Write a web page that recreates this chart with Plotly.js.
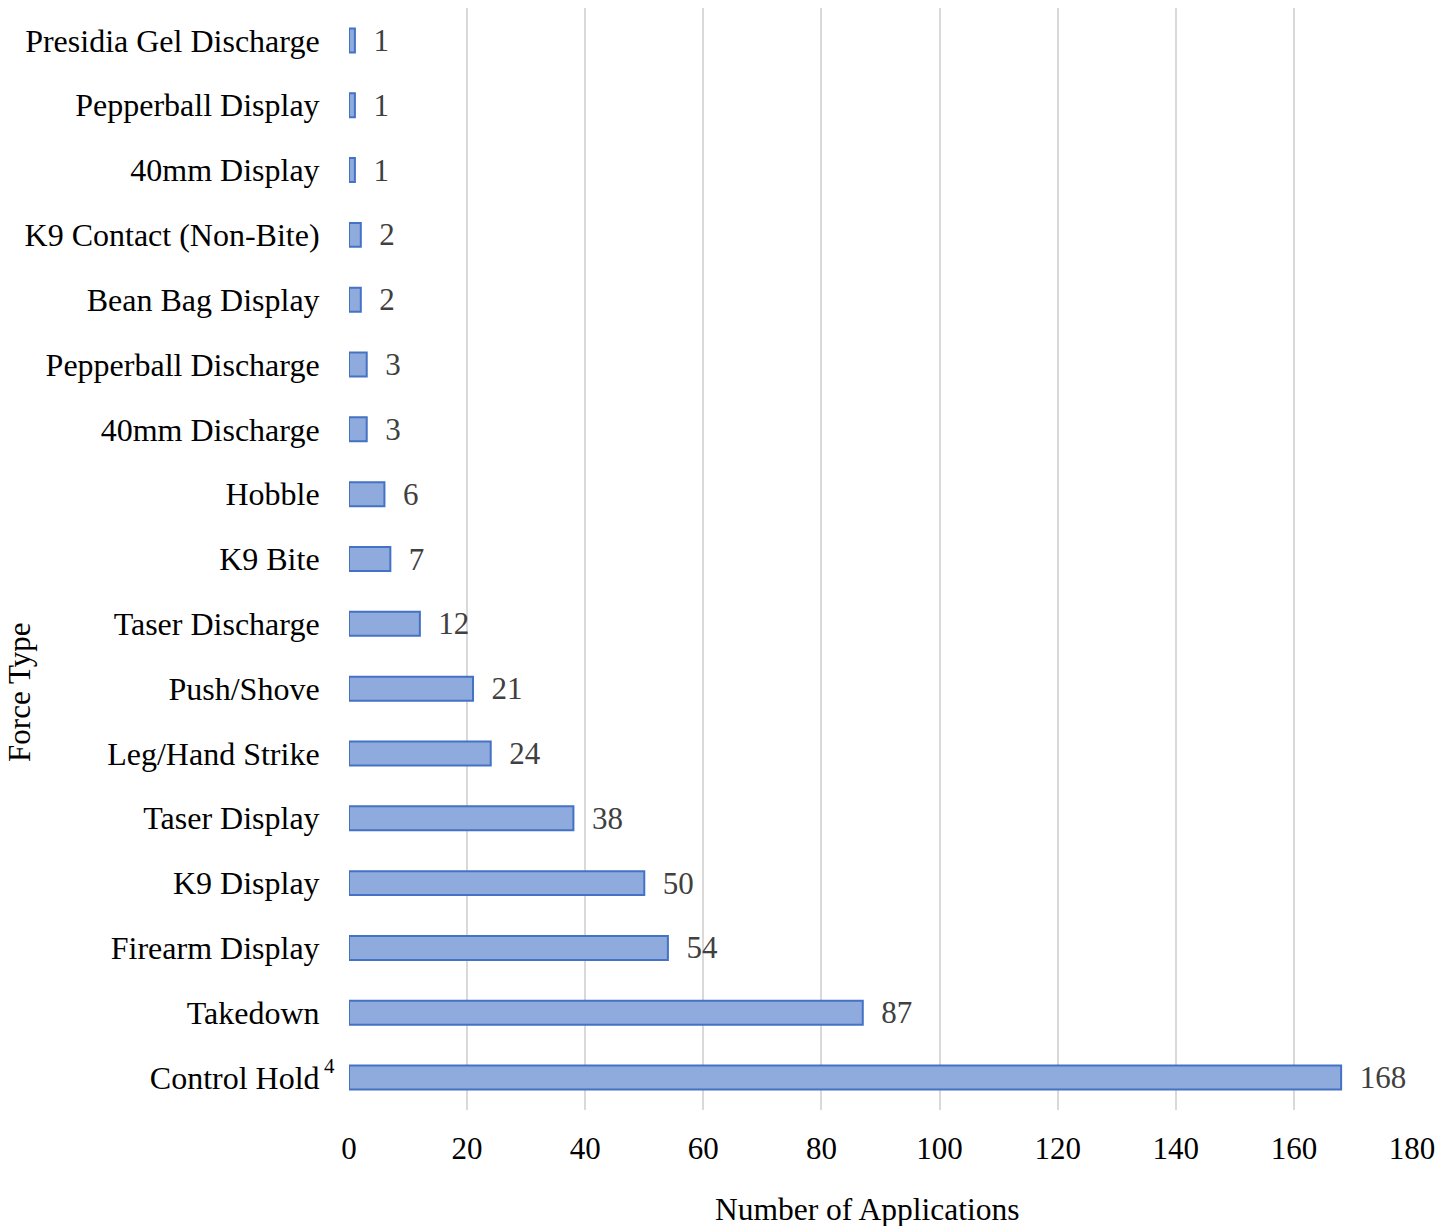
<!DOCTYPE html>
<html>
<head>
<meta charset="utf-8">
<script src="https://cdn.plot.ly/plotly-3.0.1.min.js"></script>
<style>html,body{margin:0;padding:0;background:#fff;}#chart{width:1456px;height:1226px;}</style>
</head>
<body>
<div id="chart"></div>
<script>
const categories = ["Control Hold","Takedown","Firearm Display","K9 Display","Taser Display","Leg/Hand Strike","Push/Shove","Taser Discharge","K9 Bite","Hobble","40mm Discharge","Pepperball Discharge","Bean Bag Display","K9 Contact (Non-Bite)","40mm Display","Pepperball Display","Presidia Gel Discharge"];
const values = [168,87,54,50,38,24,21,12,7,6,3,3,2,2,1,1,1];
const xTicks = [0,20,40,60,80,100,120,140,160,180];
const footnoteCategory = "Control Hold";
const footnoteMark = "4";

const font = "'Liberation Serif','Times New Roman',serif";
Plotly.newPlot('chart', [{
  type: 'bar',
  orientation: 'h',
  y: categories,
  x: values,
  width: 0.37,
  marker: {color: '#8faadc', line: {color: '#4472c4', width: 2}},
  text: values.map(v => '\u2002' + v),
  textposition: 'outside',
  constraintext: 'none',
  cliponaxis: false,
  textfont: {family: font, size: 31, color: '#404040'},
  hoverinfo: 'skip'
}], {
  width: 1456, height: 1226,
  margin: {l: 349, r: 44, t: 8, b: 116},
  paper_bgcolor: '#fff', plot_bgcolor: '#fff',
  showlegend: false,
  font: {family: font, size: 31, color: '#000'},
  xaxis: {
    range: [0, 180], tickvals: xTicks, ticktext: xTicks.map(String),
    showgrid: true, gridcolor: '#d9d9d9', gridwidth: 2,
    zeroline: false, showline: false, ticks: 'outside', ticklen: 11, tickcolor: 'rgba(0,0,0,0)',
    tickfont: {family: font, size: 31, color: '#000'},
    automargin: false,
    fixedrange: true
  },
  yaxis: {
    categoryorder: 'array', categoryarray: categories,
    range: [-0.5, 16.5],
    showgrid: false, zeroline: false, showline: false,
    ticks: 'outside', ticklen: 22, tickcolor: 'rgba(0,0,0,0)',
    tickfont: {family: font, size: 32, color: '#000'},
    automargin: false,
    fixedrange: true
  },
  annotations: [{
    text: 'Force Type', textangle: -90, showarrow: false,
    xref: 'paper', yref: 'paper', x: -0.3095, y: 0.3785,
    xanchor: 'center', yanchor: 'middle',
    font: {family: font, size: 31, color: '#000'}
  }, {
    text: 'Number of Applications', showarrow: false,
    xref: 'paper', yref: 'paper', x: 0.4873, y: -0.0903,
    xanchor: 'center', yanchor: 'middle',
    font: {family: font, size: 31.5, color: '#000'}
  }, {
    text: footnoteMark, showarrow: false,
    xref: 'paper', yref: 'y', x: -0.0250, y: footnoteCategory,
    xanchor: 'left', yanchor: 'middle', yshift: 12,
    font: {family: font, size: 21, color: '#000'}
  }]
}, {staticPlot: true});
</script>
</body>
</html>
